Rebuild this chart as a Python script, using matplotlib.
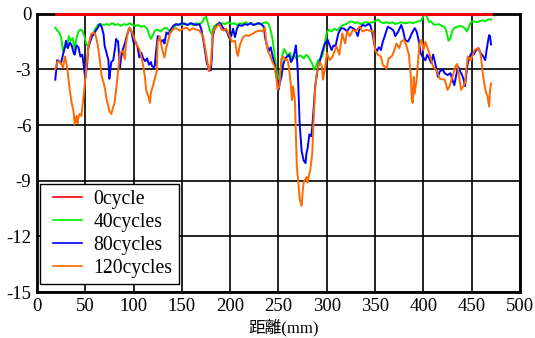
import matplotlib
matplotlib.use("Agg")
import matplotlib.pyplot as plt
from matplotlib.legend_handler import HandlerLine2D

plt.rcParams["font.family"] = ["Liberation Serif", "Noto Sans CJK JP"]
plt.rcParams["axes.unicode_minus"] = False

# 0cycle: flat reference line
dist_0 = [20, 470]
dep_0 = [0.0, 0.0]

# 40cycles
dist_40 = [19, 21, 23, 25, 27, 29, 31, 33, 35, 37, 39, 41, 43, 45, 47, 49, 51, 53, 55, 57,
           59, 61, 63, 66, 69, 72, 75, 78, 81, 84, 87, 90, 93, 96, 99, 102, 105, 108, 111, 114,
           116, 118, 120, 122, 125, 128, 131, 134, 137, 139, 141, 144, 147, 150, 153, 156, 159, 162, 165, 168,
           171, 173, 175, 177, 179, 181, 183, 186, 189, 192, 195, 198, 201, 204, 207, 210, 213, 216, 219, 222,
           225, 228, 231, 234, 237, 240, 242, 244, 246, 248, 250, 252, 254, 256, 258, 260, 262, 264, 266, 268,
           270, 273, 276, 279, 282, 285, 287, 289, 291, 294, 296, 298, 300, 302, 305, 308, 311, 314, 317, 320,
           323, 326, 329, 332, 335, 338, 341, 344, 347, 350, 353, 356, 359, 362, 365, 368, 371, 374, 377, 380,
           383, 386, 389, 392, 395, 398, 400, 402, 404, 406, 408, 410, 413, 416, 419, 422, 424, 426, 428, 430,
           432, 435, 438, 441, 443, 445, 447, 449, 452, 455, 458, 461, 464, 467, 470]
dep_40 = [-0.75, -0.9, -1.0, -1.25, -2.0, -1.7, -1.8, -1.2, -1.45, -1.3, -1.9, -1.3, -0.95, -0.85, -0.9, -1.2, -1.6, -1.75, -1.4, -1.2,
          -0.95, -0.75, -0.6, -0.55, -0.6, -0.55, -0.6, -0.5, -0.6, -0.55, -0.65, -0.55, -0.6, -0.5, -0.6, -0.65, -0.6, -0.7, -0.65, -0.8,
          -1.1, -1.35, -1.15, -0.9, -0.85, -0.95, -0.8, -0.75, -0.9, -1.0, -0.75, -0.6, -0.55, -0.6, -0.5, -0.6, -0.55, -0.6, -0.5, -0.55,
          -0.45, -0.25, -0.15, -0.5, -0.9, -1.1, -0.7, -0.55, -0.6, -0.5, -0.55, -0.45, -0.55, -0.5, -0.6, -0.5, -0.55, -0.45, -0.55, -0.5,
          -0.6, -0.5, -0.55, -0.5, -0.45, -0.55, -0.9, -1.4, -2.2, -3.0, -3.5, -3.2, -2.2, -1.9, -2.1, -2.3, -2.1, -2.5, -2.2, -2.4,
          -2.3, -2.25, -2.4, -2.2, -2.4, -2.7, -3.0, -2.8, -2.5, -2.4, -2.2, -1.6, -1.0, -0.85, -0.95, -0.8, -0.9, -0.7, -0.6, -0.55,
          -0.45, -0.4, -0.5, -0.45, -0.55, -0.5, -0.45, -0.5, -0.45, -0.4, -0.3, -0.45, -0.5, -0.45, -0.5, -0.45, -0.55, -0.5, -0.45, -0.5,
          -0.5, -0.45, -0.5, -0.45, -0.4, -0.35, -0.1, 0.0, -0.2, -0.45, -0.4, -0.55, -0.6, -0.55, -0.65, -0.7, -1.0, -1.45, -1.3, -0.9,
          -0.75, -0.7, -0.65, -0.7, -0.8, -0.95, -0.7, -0.45, -0.4, -0.45, -0.4, -0.35, -0.4, -0.3, -0.3]

# 80cycles
dist_80 = [19, 20, 21, 23, 25, 27, 29, 30, 32, 34, 36, 38, 39, 41, 43, 45, 47, 49, 50, 51,
           52, 53, 55, 57, 59, 61, 63, 65, 67, 69, 70, 72, 74, 75, 76, 77, 79, 81, 82, 84,
           86, 87, 89, 91, 93, 95, 96, 98, 100, 102, 104, 106, 108, 110, 112, 114, 116, 118, 119, 121,
           122, 123, 125, 127, 129, 131, 132, 134, 136, 138, 141, 144, 147, 150, 153, 156, 159, 162, 165, 168,
           170, 172, 174, 176, 178, 180, 181, 182, 184, 186, 189, 191, 193, 195, 197, 199, 201, 203, 205, 207,
           209, 212, 215, 218, 221, 224, 227, 230, 233, 235, 236, 238, 240, 242, 244, 246, 248, 250, 251, 253,
           255, 257, 259, 261, 263, 265, 267, 268, 269, 270, 271, 272, 274, 276, 278, 279, 280, 282, 284, 285,
           287, 288, 290, 291, 293, 295, 298, 301, 303, 305, 307, 309, 312, 315, 318, 321, 324, 327, 330, 332,
           334, 337, 340, 343, 345, 347, 350, 352, 354, 356, 358, 360, 363, 366, 369, 371, 374, 377, 379, 381,
           384, 386, 388, 391, 393, 395, 397, 399, 402, 404, 406, 408, 410, 412, 415, 417, 420, 422, 425, 428,
           430, 432, 434, 436, 438, 440, 442, 443, 445, 446, 448, 450, 452, 454, 457, 459, 462, 464, 465, 466,
           468, 469, 470]
dep_80 = [-3.55, -3.0, -2.5, -2.55, -2.65, -2.2, -1.8, -1.45, -1.85, -1.55, -1.7, -2.1, -2.2, -1.7, -1.8, -2.3, -2.2, -3.0, -3.5, -3.1,
          -2.7, -1.9, -1.5, -1.2, -1.1, -0.9, -0.75, -0.55, -0.7, -1.1, -1.7, -2.1, -2.5, -3.5, -3.0, -2.6, -2.5, -1.8, -1.35, -1.5,
          -2.9, -2.4, -1.9, -1.6, -1.2, -0.85, -0.75, -1.0, -1.55, -1.5, -1.75, -2.35, -2.1, -2.4, -2.55, -2.4, -2.75, -2.6, -2.8, -2.9,
          -2.8, -2.2, -1.2, -1.35, -1.5, -1.4, -1.6, -1.0, -1.1, -0.9, -0.65, -0.55, -0.6, -0.5, -0.55, -0.6, -0.5, -0.55, -0.6, -0.55,
          -0.8, -1.35, -2.0, -2.7, -2.9, -3.05, -2.4, -1.2, -0.8, -0.65, -0.47, -0.6, -0.8, -0.85, -1.0, -1.3, -1.2, -0.8, -1.25, -0.8,
          -0.6, -0.65, -0.55, -0.6, -0.5, -0.6, -0.55, -0.5, -0.6, -0.7, -1.25, -1.7, -2.0, -1.8, -2.3, -2.7, -3.4, -4.1, -3.8, -3.4,
          -2.7, -2.4, -2.3, -2.2, -2.6, -2.4, -2.0, -1.7, -2.3, -3.1, -4.5, -6.0, -7.4, -7.9, -8.05, -7.5, -7.3, -6.5, -6.6, -6.1,
          -4.7, -3.9, -3.2, -2.85, -2.5, -2.1, -1.6, -1.4, -1.7, -1.95, -1.7, -1.75, -1.05, -0.77, -0.8, -0.95, -0.7, -0.77, -0.9, -1.2,
          -0.8, -0.6, -0.65, -0.55, -0.6, -1.0, -1.85, -2.0, -1.8, -1.95, -1.5, -1.2, -0.7, -0.77, -0.9, -1.2, -0.95, -0.6, -0.9, -1.4,
          -1.5, -1.3, -1.05, -0.77, -0.95, -1.4, -2.1, -2.3, -2.5, -2.2, -2.4, -2.65, -2.2, -2.6, -3.4, -3.1, -3.0, -3.2, -3.3, -3.2,
          -3.55, -3.85, -3.3, -2.85, -3.1, -3.3, -3.6, -3.9, -3.0, -2.65, -2.3, -2.1, -2.2, -2.0, -1.85, -2.1, -2.3, -2.5, -2.1, -1.75,
          -1.15, -1.2, -1.65]

# 120cycles
dist_120 = [19, 20, 21, 23, 25, 27, 29, 30, 32, 34, 36, 38, 39, 41, 42, 43, 44, 46, 48, 50,
            52, 54, 56, 59, 61, 63, 65, 67, 69, 71, 72, 74, 75, 77, 79, 80, 82, 84, 86, 89,
            91, 92, 94, 96, 98, 100, 103, 106, 108, 110, 112, 113, 115, 117, 118, 120, 122, 124, 125, 127,
            130, 132, 134, 136, 138, 141, 144, 148, 151, 155, 158, 161, 165, 168, 172, 175, 178, 180, 182, 185,
            189, 191, 193, 196, 200, 202, 205, 207, 208, 210, 213, 216, 219, 222, 224, 227, 231, 233, 236, 237,
            239, 241, 243, 246, 248, 249, 251, 253, 255, 257, 259, 260, 262, 264, 265, 267, 268, 269, 271, 272,
            274, 275, 276, 277, 279, 280, 282, 283, 285, 286, 288, 289, 291, 293, 295, 296, 298, 300, 303, 306,
            310, 313, 316, 319, 321, 324, 327, 330, 334, 337, 341, 344, 348, 350, 353, 356, 358, 362, 364, 367,
            369, 372, 375, 377, 380, 382, 385, 387, 388, 389, 390, 391, 393, 394, 396, 398, 400, 402, 406, 410,
            413, 417, 422, 425, 427, 430, 433, 435, 437, 439, 443, 444, 446, 449, 453, 457, 459, 462, 463, 465,
            466, 468, 469, 470]
dep_120 = [-3.0, -2.8, -2.6, -2.55, -2.7, -2.9, -2.3, -2.5, -3.2, -4.1, -4.8, -5.3, -5.95, -5.5, -5.9, -5.6, -5.4, -5.5, -4.6, -3.5,
           -2.45, -1.55, -1.1, -1.0, -1.2, -1.7, -2.45, -3.35, -3.7, -4.2, -4.6, -5.0, -5.25, -5.4, -5.0, -4.9, -4.1, -3.1, -2.1, -2.0,
           -2.45, -1.7, -1.0, -0.74, -0.95, -1.2, -1.65, -1.9, -2.3, -2.8, -3.5, -4.1, -4.4, -4.8, -4.25, -3.9, -3.5, -3.1, -1.55, -1.2,
           -2.0, -2.35, -1.8, -1.4, -1.0, -0.83, -0.78, -0.9, -0.8, -0.74, -0.9, -0.78, -0.85, -0.9, -1.2, -2.1, -3.1, -2.7, -1.0, -0.74,
           -0.56, -0.85, -0.9, -0.8, -1.28, -1.5, -1.45, -2.1, -2.27, -1.7, -1.28, -1.15, -1.2, -1.1, -1.05, -0.95, -0.9, -0.95, -0.74, -1.45,
           -2.0, -2.2, -2.5, -2.85, -3.5, -4.1, -3.9, -2.4, -2.3, -2.5, -2.45, -2.6, -3.4, -4.65, -3.9, -4.65, -6.4, -8.25, -9.3, -10.0,
           -10.35, -9.6, -9.1, -9.0, -8.8, -9.1, -8.6, -8.4, -7.5, -6.1, -4.1, -3.4, -2.85, -2.6, -2.85, -3.55, -3.0, -2.1, -2.5, -2.3,
           -1.75, -2.2, -1.05, -1.6, -0.95, -1.2, -0.86, -0.95, -0.68, -0.95, -0.86, -0.9, -0.95, -1.95, -2.2, -2.3, -2.75, -2.95, -2.4, -2.3,
           -2.1, -1.6, -1.85, -1.5, -1.4, -1.65, -2.2, -3.4, -4.65, -4.8, -3.4, -4.3, -3.55, -2.85, -1.6, -1.4, -1.95, -1.5, -2.1, -2.85,
           -3.0, -3.5, -3.55, -4.1, -3.9, -3.4, -2.85, -2.7, -3.4, -4.1, -3.75, -3.2, -2.3, -2.5, -1.95, -1.85, -2.1, -3.4, -3.75, -4.3,
           -4.35, -5.0, -4.1, -3.75]

fig = plt.figure(figsize=(5.35, 3.38), dpi=100, facecolor="white")
ax = fig.add_axes([0.069, 0.136, 0.903, 0.823])

lw = 1.4
ax.plot(dist_0, dep_0, color="#ff0000", lw=2.0, label="0cycle", zorder=4, clip_on=False)
ax.plot(dist_40, dep_40, color="#00ee00", lw=lw, label="40cycles", zorder=3)
ax.plot(dist_80, dep_80, color="#0000ff", lw=lw, label="80cycles", zorder=3)
ax.plot(dist_120, dep_120, color="#ff6a00", lw=lw, label="120cycles", zorder=3)

ax.set_xlim(0, 500)
ax.set_ylim(-15, 0)
ax.set_xticks(range(0, 501, 50))
ax.set_yticks(range(-15, 1, 3))
ax.tick_params(length=0, labelsize=13.5, pad=4, colors="black")

# heavy black grid like the original
ax.set_axisbelow(True)
ax.grid(True, color="black", lw=1.2)
for s in ax.spines.values():
    s.set_linewidth(2.0)
    s.set_color("black")

ax.set_xlabel("距離(mm)", fontsize=12)
ax.xaxis.set_label_coords(0.511, -0.097)

leg = ax.legend(loc="lower left", bbox_to_anchor=(0.007, 0.029), borderaxespad=0,
                fontsize=14.2, frameon=True, fancybox=False, framealpha=1,
                edgecolor="black", handlelength=1.8, handletextpad=0.61,
                labelspacing=0.2, borderpad=0.3,
                handler_map={plt.Line2D: HandlerLine2D(xpad=0.32)})
leg.get_frame().set_linewidth(1.0)
for h in leg.get_lines():
    h.set_linewidth(1.2)

fig.savefig("out.png", dpi=100, facecolor="white")
